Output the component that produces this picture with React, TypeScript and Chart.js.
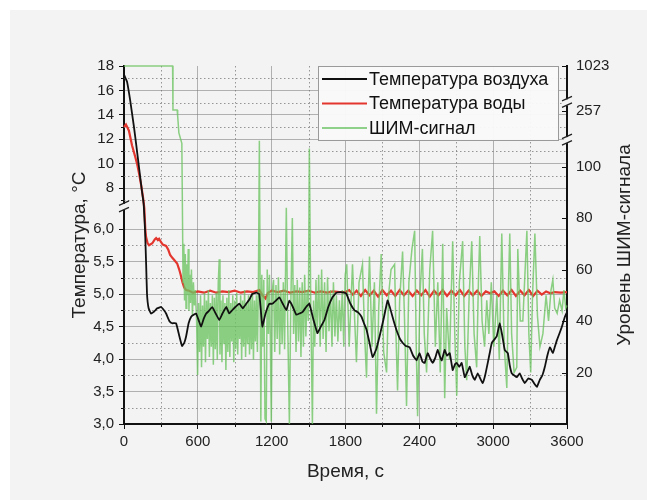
import React, { useEffect, useRef } from "react";
import { Chart, registerables } from "chart.js";

Chart.register(...registerables);

// ---------- data ----------
const airTime = [
  0, 12, 25, 50, 81, 100, 122, 145, 160, 171, 180, 187, 200, 220, 245, 270, 301, 325, 342, 370,
  391, 423, 450, 472, 490, 505, 525, 546, 566, 586, 610, 627, 648, 668, 690, 717, 745, 774, 800, 831,
  855, 879, 905, 937, 965, 993, 1020, 1042, 1075, 1099, 1112, 1124, 1150, 1181, 1205, 1235, 1262, 1290, 1319, 1344,
  1372, 1401, 1425, 1450, 1480, 1506, 1540, 1572, 1600, 1629, 1660, 1694, 1726, 1760, 1790, 1808, 1840, 1873, 1900, 1930,
  1950, 1971, 1995, 2020, 2050, 2077, 2110, 2142, 2160, 2182, 2205, 2223, 2245, 2264, 2290, 2321, 2350, 2378, 2402, 2425,
  2443, 2468, 2490, 2508, 2530, 2549, 2565, 2582, 2606, 2625, 2647, 2671, 2690, 2704, 2725, 2744, 2769, 2790, 2810, 2830,
  2850, 2875, 2895, 2915, 2935, 2956, 2975, 2989, 3010, 3029, 3054, 3075, 3094, 3119, 3135, 3151, 3170, 3192, 3216, 3235,
  3257, 3285, 3314, 3335, 3355, 3379, 3400, 3420, 3440, 3461, 3485, 3500, 3518, 3540, 3559, 3583, 3600,
];
const airTemp = [
  17.3, 17.0, 16.7, 15.2, 13.0, 11.5, 9.7, 7.8, 6.7, 5.98, 5.45, 5.0, 4.78, 4.7, 4.73, 4.78, 4.8, 4.75, 4.7, 4.58,
  4.55, 4.55, 4.35, 4.2, 4.25, 4.35, 4.55, 4.65, 4.68, 4.7, 4.58, 4.5, 4.62, 4.7, 4.74, 4.8, 4.7, 4.6, 4.7, 4.8,
  4.7, 4.75, 4.8, 4.85, 4.78, 4.85, 4.92, 5.0, 5.02, 5.0, 4.75, 4.5, 4.7, 4.85, 4.85, 4.9, 4.95, 4.85, 4.75, 4.9,
  4.8, 4.68, 4.7, 4.72, 4.8, 4.85, 4.6, 4.4, 4.5, 4.6, 4.8, 4.95, 5.02, 5.03, 5.02, 5.0, 4.85, 4.75, 4.72, 4.65,
  4.55, 4.45, 4.25, 4.03, 4.15, 4.35, 4.62, 4.9, 4.8, 4.65, 4.5, 4.4, 4.3, 4.25, 4.2, 4.18, 4.05, 3.98, 4.09, 3.96,
  3.94, 4.09, 4.0, 3.94, 4.02, 4.14, 4.05, 3.98, 4.14, 4.05, 4.09, 3.83, 3.92, 3.94, 3.88, 3.94, 3.72, 3.8, 3.88, 3.75,
  3.68, 3.78, 3.7, 3.63, 3.75, 3.94, 4.12, 4.25, 4.3, 4.35, 4.55, 4.35, 4.14, 4.09, 3.9, 3.78, 3.75, 3.72, 3.78, 3.7,
  3.63, 3.7, 3.68, 3.62, 3.57, 3.68, 3.75, 3.88, 4.05, 4.18, 4.09, 4.18, 4.29, 4.4, 4.5, 4.65, 4.72,
];

const waterTime = [
  0, 16, 40, 65, 90, 106, 122, 140, 155, 165, 173, 179, 192, 204, 230, 250, 261, 275, 285, 300,
  315, 342, 360, 375, 391, 410, 432, 448, 460, 475, 489, 505, 529, 560, 600, 650, 700, 750, 800, 850,
  900, 950, 1000, 1050, 1100, 1125, 1150, 1170, 1200, 1250, 1300, 1350, 1400, 1450, 1500, 1550, 1600, 1650, 1700, 1750,
  1800, 1830, 1860, 1890, 1925, 1960, 1995, 2030, 2065, 2100, 2135, 2170, 2205, 2240, 2275, 2310, 2345, 2380, 2415, 2450,
  2485, 2520, 2555, 2590, 2625, 2660, 2695, 2730, 2765, 2800, 2835, 2870, 2905, 2940, 2975, 3010, 3045, 3080, 3115, 3150,
  3185, 3220, 3255, 3290, 3325, 3360, 3395, 3430, 3465, 3500, 3550, 3600,
];
const waterTemp = [
  13.0, 13.2, 12.7, 11.5, 10.6, 10.0, 9.2, 8.2, 7.2, 6.4, 6.0, 5.88, 5.78, 5.75, 5.78, 5.84, 5.86, 5.83, 5.85, 5.8,
  5.76, 5.74, 5.68, 5.6, 5.56, 5.52, 5.47, 5.38, 5.3, 5.18, 5.1, 5.06, 5.05, 5.02, 5.04, 5.02, 5.05, 5.02, 5.04, 5.03,
  5.05, 5.02, 5.04, 5.03, 5.06, 4.98, 4.93, 5.02, 5.05, 5.03, 5.05, 5.02, 5.04, 5.03, 5.05, 5.02, 5.04, 5.02, 5.04, 5.03,
  5.03, 5.06, 4.99, 5.05, 4.97, 5.06, 4.98, 5.05, 4.96, 5.06, 4.98, 5.05, 4.97, 5.06, 4.98, 5.05, 4.97, 5.05, 4.98, 5.06,
  4.96, 5.05, 4.98, 5.06, 4.97, 5.05, 4.98, 5.06, 4.97, 5.05, 4.98, 5.05, 4.97, 5.04, 5.01, 5.04, 4.97, 5.05, 4.98, 5.06,
  4.97, 5.05, 4.98, 5.06, 4.97, 5.05, 4.99, 5.04, 5.01, 5.03, 5.02, 5.03,
];

const pwmTime = [
  0, 395, 398, 432, 436, 446, 470, 480, 486, 492, 498, 504, 510, 516, 522, 528, 534, 540, 548, 556,
  564, 572, 580, 590, 598, 606, 614, 622, 630, 638, 646, 654, 662, 670, 678, 686, 694, 702, 710, 718,
  726, 734, 742, 750, 758, 766, 774, 780, 788, 796, 804, 812, 820, 828, 836, 844, 852, 860, 868, 876,
  884, 892, 900, 908, 916, 924, 932, 940, 948, 956, 964, 972, 980, 988, 996, 1004, 1012, 1020, 1028, 1036,
  1044, 1052, 1060, 1068, 1076, 1084, 1092, 1100, 1112, 1120, 1128, 1136, 1146, 1156, 1164, 1174, 1182, 1190, 1197, 1205,
  1215, 1225, 1235, 1245, 1255, 1265, 1275, 1285, 1295, 1305, 1319, 1330, 1344, 1355, 1368, 1378, 1388, 1398, 1408, 1418,
  1428, 1438, 1448, 1458, 1468, 1478, 1488, 1498, 1506, 1518, 1531, 1540, 1550, 1560, 1570, 1582, 1594, 1606, 1618, 1630,
  1642, 1654, 1666, 1678, 1690, 1702, 1714, 1726, 1738, 1750, 1762, 1774, 1786, 1798, 1810, 1830, 1857, 1875, 1889, 1910,
  1938, 1955, 1971, 1985, 1995, 2015, 2035, 2052, 2070, 2090, 2110, 2134, 2150, 2170, 2199, 2210, 2223, 2240, 2264, 2280,
  2296, 2315, 2340, 2362, 2375, 2386, 2405, 2425, 2440, 2459, 2485, 2508, 2530, 2550, 2570, 2590, 2606, 2622, 2645, 2671,
  2688, 2704, 2725, 2752, 2770, 2785, 2805, 2826, 2845, 2866, 2880, 2891, 2910, 2930, 2948, 2965, 2985, 3005, 3030, 3050,
  3070, 3090, 3111, 3125, 3135, 3150, 3170, 3192, 3200, 3220, 3241, 3274, 3290, 3305, 3320, 3339, 3360, 3380, 3404, 3430,
  3450, 3470, 3485, 3500, 3520, 3540, 3560, 3575, 3590, 3600,
];
const pwmValue = [
  1023, 1023, 258, 258, 252, 170, 109, 55, 70, 48, 66, 45, 62, 50, 68, 44, 58, 47, 60, 42,
  55, 46, 52, 40, 19, 47, 28, 50, 22, 46, 30, 51, 24, 48, 33, 52, 26, 47, 30, 50,
  23, 49, 29, 51, 25, 55, 64, 27, 48, 24, 50, 31, 47, 21, 49, 28, 52, 26, 47, 32,
  50, 24, 48, 29, 51, 27, 46, 33, 50, 25, 48, 30, 52, 26, 47, 31, 50, 27, 49, 29,
  51, 25, 48, 32, 50, 28, 53, 110, 1, 58, 30, 56, 2, 1, 60, 35, 58, 30, 1, 52,
  56, 28, 54, 33, 57, 27, 52, 31, 55, 29, 84, 40, 0, 45, 80, 35, 54, 28, 56, 32,
  53, 26, 55, 30, 58, 34, 52, 40, 107, 45, 0, 48, 30, 56, 35, 58, 30, 60, 33, 55,
  28, 57, 36, 52, 30, 55, 34, 50, 32, 48, 36, 52, 30, 58, 62, 30, 62, 40, 24, 55,
  62, 35, 18, 50, 65, 30, 55, 4, 45, 66, 28, 20, 50, 60, 62, 35, 13, 48, 67, 40,
  7, 55, 68, 75, 30, 3, 50, 68, 35, 20, 60, 75, 30, 55, 20, 70, 10, 45, 25, 71,
  35, 11, 55, 71, 30, 17, 50, 71, 35, 22, 55, 73, 40, 30, 48, 35, 55, 30, 50, 25,
  74, 30, 14, 55, 74, 35, 20, 22, 68, 40, 40, 75, 35, 20, 50, 74, 42, 30, 35, 50,
  40, 52, 56, 45, 43, 48, 44, 52, 45, 46,
];

// ---------- axes ----------
const xTicks = [0, 600, 1200, 1800, 2400, 3000, 3600];
const xMinorTicks = [300, 900, 1500, 2100, 2700, 3300];
const leftTicks = [3.0, 3.5, 4.0, 4.5, 5.0, 5.5, 6.0, 8, 10, 12, 14, 16, 18];
const leftMinorTicks = [3.25, 3.75, 4.25, 4.75, 5.25, 5.75, 7, 9, 11, 13, 15, 17];
const rightTicks = [20, 40, 60, 80, 100, 257, 1023];
const leftBreaks = [6.5];
const rightBreaks = [115, 300];

const seriesLabels = ["Температура воздуха", "Температура воды", "ШИМ-сигнал"];
const seriesColors = ["#111111", "#e3362e", "rgba(108,196,96,0.78)"];
const legendColors = ["#111111", "#e3362e", "#8fd08a"];

// piecewise (broken) axis transforms: value -> scale units (0..358)
const FULL = 358;
function mapL(t: number): number {
  if (t <= 6.3) return (t - 3) * 65;
  if (t >= 7) return FULL - (18 - t) * 12.2;
  const a = (6.3 - 3) * 65;
  const b = FULL - 11 * 12.2;
  return a + ((t - 6.3) / 0.7) * (b - a);
}
function mapR(v: number): number {
  if (v <= 110) return v * 2.575;
  if (v < 245) return 283.25 + ((v - 110) / 135) * (301 - 283.25);
  if (v <= 265) return 301 + (v - 245);
  if (v < 1000) return 321 + ((v - 265) / 735) * 14;
  return 335 + (v - 1000);
}
const fmtLeft = (v: number) => (v < 7 ? v.toFixed(1).replace(".", ",") : String(v));

const FONT = '"Liberation Sans", Arial, sans-serif';
const TEXT = "#222222";
const GRID = "rgba(120,120,120,0.55)";
const PANEL = "#f3f3f3";

function drawBreak(ctx: CanvasRenderingContext2D, x: number, y: number) {
  ctx.save();
  ctx.fillStyle = PANEL;
  ctx.fillRect(x - 3, y - 3, 6, 6);
  ctx.strokeStyle = "#222";
  ctx.lineWidth = 1.2;
  ctx.beginPath();
  ctx.moveTo(x - 5, y - 1.5);
  ctx.lineTo(x + 5, y - 6);
  ctx.moveTo(x - 5, y + 5);
  ctx.lineTo(x + 5, y + 0.5);
  ctx.stroke();
  ctx.restore();
}

const decorPlugin = {
  id: "decor",
  beforeDatasetsDraw(chart: any) {
    const { ctx, chartArea: a, scales } = chart;
    ctx.save();
    ctx.strokeStyle = "rgba(110,110,110,0.7)";
    ctx.lineWidth = 1;
    ctx.setLineDash([1.5, 2.5]);
    ctx.beginPath();
    for (const t of xMinorTicks) {
      const px = Math.round(scales.x.getPixelForValue(t)) + 0.5;
      ctx.moveTo(px, a.top);
      ctx.lineTo(px, a.bottom);
    }
    for (const v of leftMinorTicks) {
      const py = Math.round(scales.yL.getPixelForValue(mapL(v))) + 0.5;
      ctx.moveTo(a.left, py);
      ctx.lineTo(a.right, py);
    }
    ctx.stroke();
    ctx.restore();
  },
  afterDraw(chart: any) {
    const { ctx, chartArea: a, scales } = chart;
    ctx.save();
    ctx.strokeStyle = "#111";
    ctx.lineWidth = 1;
    ctx.beginPath();
    for (const t of xMinorTicks) {
      const px = Math.round(scales.x.getPixelForValue(t)) + 0.5;
      ctx.moveTo(px, a.bottom);
      ctx.lineTo(px, a.bottom + 3);
    }
    for (const v of leftMinorTicks) {
      const py = Math.round(scales.yL.getPixelForValue(mapL(v))) + 0.5;
      ctx.moveTo(a.left, py);
      ctx.lineTo(a.left - 3, py);
    }
    for (const v of rightTicks) {
      const py = Math.round(scales.yR.getPixelForValue(mapR(v))) + 0.5;
      ctx.moveTo(a.right, py);
      ctx.lineTo(a.right - 5, py);
    }
    ctx.stroke();
    ctx.restore();

    for (const v of leftBreaks) drawBreak(ctx, a.left, scales.yL.getPixelForValue(mapL(v)));
    for (const v of rightBreaks) drawBreak(ctx, a.right, scales.yR.getPixelForValue(mapR(v)));

    ctx.save();
    ctx.translate(625, (a.top + a.bottom) / 2);
    ctx.rotate(-Math.PI / 2);
    ctx.fillStyle = TEXT;
    ctx.font = `19px ${FONT}`;
    ctx.textAlign = "center";
    ctx.textBaseline = "middle";
    ctx.fillText("Уровень ШИМ-сигнала", 0, 0);
    ctx.restore();

    ctx.save();
    const lx = 318, ly = a.top, lw = 240, lh = 74;
    ctx.fillStyle = "rgba(249,249,249,0.97)";
    ctx.fillRect(lx, ly, lw, lh);
    ctx.strokeStyle = "#9a9a9a";
    ctx.lineWidth = 1;
    ctx.strokeRect(lx + 0.5, ly + 0.5, lw, lh);
    ctx.font = `18px ${FONT}`;
    ctx.textBaseline = "middle";
    ctx.textAlign = "left";
    seriesLabels.forEach((label, i) => {
      const y = ly + 13 + i * 24.5;
      ctx.strokeStyle = legendColors[i];
      ctx.lineWidth = 2;
      ctx.beginPath();
      ctx.moveTo(lx + 4, y);
      ctx.lineTo(lx + 49, y);
      ctx.stroke();
      ctx.fillStyle = "#111";
      ctx.fillText(label, lx + 51, y + 1);
    });
    ctx.restore();
  },
};

export default function App() {
  const canvasRef = useRef<HTMLCanvasElement | null>(null);

  useEffect(() => {
    if (!canvasRef.current) return;
    const air = airTime.map((t, i) => ({ x: t, y: mapL(airTemp[i]) }));
    const water = waterTime.map((t, i) => ({ x: t, y: mapL(waterTemp[i]) }));
    const pwm = pwmTime.map((t, i) => ({ x: t, y: mapR(pwmValue[i]) }));

    const chart = new Chart(canvasRef.current, {
      type: "line",
      data: {
        datasets: [
          {
            label: seriesLabels[0],
            data: air,
            yAxisID: "yL",
            borderColor: seriesColors[0],
            borderWidth: 1.8,
            pointRadius: 0,
            tension: 0.1,
            clip: 3,
            order: 0,
          },
          {
            label: seriesLabels[2],
            data: pwm,
            yAxisID: "yR",
            borderColor: seriesColors[2],
            borderWidth: 1.5,
            pointRadius: 0,
            tension: 0,
            clip: 3,
            order: 1,
          },
          {
            label: seriesLabels[1],
            data: water,
            yAxisID: "yL",
            borderColor: seriesColors[1],
            borderWidth: 2.2,
            pointRadius: 0,
            tension: 0,
            clip: 3,
            order: 2,
          },
        ],
      },
      options: {
        animation: false,
        responsive: false,
        maintainAspectRatio: false,
        layout: { padding: { left: 64, right: 0, top: 66, bottom: 13 } },
        plugins: { legend: { display: false }, tooltip: { enabled: false } },
        scales: {
          x: {
            type: "linear",
            min: 0,
            max: 3600,
            afterBuildTicks: (s: any) => {
              s.ticks = xTicks.map((v) => ({ value: v }));
            },
            afterFit: (s: any) => {
              s.height = 63;
            },
            ticks: {
              autoSkip: false,
              maxRotation: 0,
              padding: 4,
              color: TEXT,
              font: { family: FONT, size: 15 },
              callback: (v: any) => String(v),
            },
            grid: { color: GRID, lineWidth: 1, tickColor: "#111", tickLength: 5 },
            border: { color: "#111", width: 2 },
            title: {
              display: true,
              text: "Время, с",
              color: TEXT,
              font: { family: FONT, size: 19 },
              padding: { top: 4, bottom: 4 },
            },
          },
          yL: {
            type: "linear",
            position: "left",
            min: 0,
            max: FULL,
            afterBuildTicks: (s: any) => {
              s.ticks = leftTicks.map((v) => ({ value: mapL(v) }));
            },
            afterFit: (s: any) => {
              s.width = 60;
            },
            ticks: {
              autoSkip: false,
              padding: 5,
              color: TEXT,
              font: { family: FONT, size: 15 },
              callback: (_v: any, i: number) => fmtLeft(leftTicks[i]),
            },
            grid: {
              color: (c: any) => (c.tick && c.tick.value >= FULL - 0.5 ? "rgba(0,0,0,0)" : GRID),
              lineWidth: 1,
              tickColor: "#111",
              tickLength: 5,
            },
            border: { color: "#111", width: 2 },
            title: {
              display: true,
              text: "Температура, °C",
              color: TEXT,
              font: { family: FONT, size: 19 },
              padding: { top: 4, bottom: 4 },
            },
          },
          yR: {
            type: "linear",
            position: "right",
            min: 0,
            max: FULL,
            afterBuildTicks: (s: any) => {
              s.ticks = rightTicks.map((v) => ({ value: mapR(v) }));
            },
            afterFit: (s: any) => {
              s.width = 80;
            },
            ticks: {
              autoSkip: false,
              padding: 9,
              color: TEXT,
              font: { family: FONT, size: 15 },
              callback: (_v: any, i: number) => String(rightTicks[i]),
            },
            grid: { drawOnChartArea: false, drawTicks: false },
            border: { color: "#111", width: 2 },
          },
        },
      },
      plugins: [decorPlugin],
    } as any);

    return () => chart.destroy();
  }, []);

  return (
    <div style={{ position: "fixed", left: 0, top: 0, width: 647, height: 500, background: "#ffffff" }}>
      <div style={{ position: "absolute", left: 10, top: 10, width: 637, height: 490, background: PANEL }} />
      <canvas
        ref={canvasRef}
        width={647}
        height={500}
        style={{ position: "absolute", left: 0, top: 0, width: 647, height: 500 }}
      />
    </div>
  );
}
